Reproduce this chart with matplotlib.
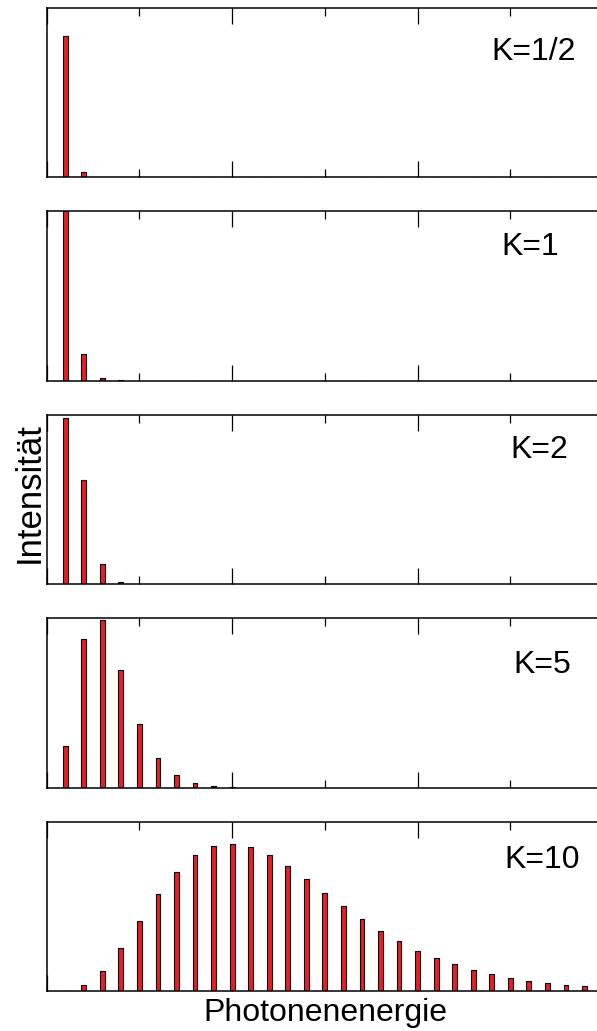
import matplotlib
matplotlib.use("Agg")
import matplotlib.pyplot as plt
from matplotlib.ticker import MultipleLocator
import matplotlib.transforms as mtransforms

plt.rcParams['font.family'] = ['Liberation Sans', 'DejaVu Sans']

labels = ["K=1/2", "K=1", "K=2", "K=5", "K=10"]

k_half = [0.833, 0.031, 0.001]
k_one = [1.0, 0.157, 0.012, 0.001]
k_two = [0.984, 0.616, 0.121, 0.014, 0.001]
k_five = [0.248, 0.880, 0.988, 0.695, 0.376, 0.173, 0.073, 0.028, 0.012, 0.004, 0.001]
k_ten = [0.003, 0.037, 0.122, 0.254, 0.412, 0.571, 0.705, 0.801, 0.855, 0.868,
         0.849, 0.801, 0.737, 0.660, 0.579, 0.500, 0.425, 0.356, 0.295, 0.240,
         0.197, 0.158, 0.126, 0.100, 0.077, 0.061, 0.047, 0.037, 0.028]

n_harm = 29
harmonics = list(range(1, n_harm + 1))
series = [k_half, k_one, k_two, k_five, k_ten]

W, H = 597, 1031
fig = plt.figure(figsize=(W / 100, H / 100), dpi=100)

left_px = 46.7
width_px = 603 - 46.7
panel_h = 169.5
tops = [7.7, 211.0, 414.8, 618.3, 821.7]
label_x = [26.27, 26.08, 26.54, 26.73, 26.73]
label_y = [0.739, 0.788, 0.793, 0.724, 0.774]

for i, (vals, lab) in enumerate(zip(series, labels)):
    bottom = 1 - (tops[i] + panel_h) / H
    ax = fig.add_axes([left_px / W, bottom, width_px / W, panel_h / H])
    full = list(vals) + [0.0] * (n_harm - len(vals))
    ax.bar(harmonics, full, width=0.26, color='#ec1c24', edgecolor='black',
           linewidth=0.8, zorder=2)
    ax.set_xlim(0, 30)
    ax.set_ylim(0, 1.0)
    ax.xaxis.set_major_locator(MultipleLocator(10))
    ax.xaxis.set_minor_locator(MultipleLocator(5))
    ax.tick_params(axis='x', which='major', direction='in', top=True, bottom=True,
                   length=11.5, width=0.9, labelbottom=False, labeltop=False)
    ax.tick_params(axis='x', which='minor', direction='in', top=True, bottom=True,
                   length=5.8, width=0.9)
    ax.set_yticks([])
    for sp in ax.spines.values():
        sp.set_linewidth(1.1)
        sp.set_zorder(5)
    trans = mtransforms.blended_transform_factory(ax.transData, ax.transAxes)
    ax.text(label_x[i], label_y[i], lab, transform=trans, ha='center', va='center',
            fontsize=23)

fig.text(29 / W, 1 - 493 / H, "Intensität", rotation=90, ha='center', va='center',
         fontsize=25)
fig.text(325 / W, 1 - 1013 / H, "Photonenenergie", ha='center', va='center',
         fontsize=23)

fig.savefig("out.png", dpi=100)
